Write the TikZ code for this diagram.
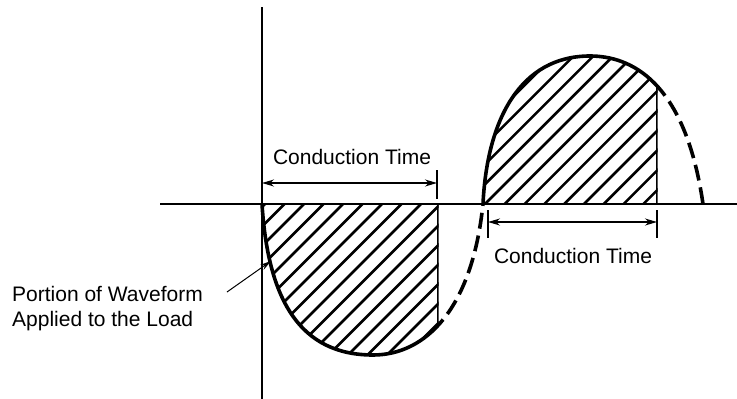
\documentclass[tikz,border=0pt]{standalone}
\usepackage{fontspec}
\setmainfont{Liberation Sans}
\usetikzlibrary{arrows.meta}

% waveform halves (pixel units, y pointing down)
\newcommand{\negwave}{(262,204) .. controls (268,300) and (300,355) .. (373,355)
  .. controls (425,355) and (472,310) .. (483,204)}
\newcommand{\poswave}{(483,204) .. controls (487,120) and (520,56) .. (590,56)
  .. controls (630,56) and (685,80) .. (703,204)}

\begin{document}
\begin{tikzpicture}[
  x=1pt, y=-1pt,
  axis/.style={line width=1.3pt},
  wave/.style={line width=3.6pt},
  hatch/.style={line width=2.6pt},
  dim/.style={{Stealth[length=12pt,width=7pt]}-{Stealth[length=12pt,width=7pt]}, line width=1.2pt},
  lbl/.style={font=\fontsize{21}{25}\selectfont, inner sep=0pt},
]
  \useasboundingbox (0,0) rectangle (737,399);

  % Axes
  \coordinate (ytop) at (262,7);
  \coordinate (ybot) at (262,399);
  \coordinate (xleft) at (160,204);
  \coordinate (xright) at (737,204);
  \draw[axis] (ytop) -- (ybot);
  \draw[axis] (xleft) -- (xright);

  % Negative half: hatched part
  \begin{scope}
    \clip (262,204) rectangle (438.5,400);
    \clip \negwave -- cycle;
    \foreach \k in {0,...,18}
      \draw[hatch] ({69+19.5*\k},400) -- ++(260,-260);
    \draw[axis] (438,204) -- (438,400);
  \end{scope}
  \begin{scope}
    \clip (250,150) rectangle (438,400);
    \draw[wave] \negwave;
  \end{scope}
  \begin{scope}
    \clip (438,150) rectangle (500,400);
    \draw[wave, dash pattern=on 16pt off 7pt] \negwave;
  \end{scope}

  % Positive half: hatched part
  \begin{scope}
    \clip (483,30) rectangle (657.5,204);
    \clip \poswave -- cycle;
    \foreach \k in {-8,...,9}
      \draw[hatch] ({289+19.8*\k},400) -- ++(400,-400);
    \draw[axis] (657,204) -- (657,30);
  \end{scope}
  \begin{scope}
    \clip (470,30) rectangle (657,206);
    \draw[wave] \poswave;
  \end{scope}
  \begin{scope}
    \clip (657,30) rectangle (720,206);
    \draw[wave, dash pattern=on 16pt off 7pt] \poswave;
  \end{scope}

  % Upper conduction time
  \coordinate (t1a) at (437,170);
  \coordinate (t1b) at (437,199);
  \coordinate (c1l) at (262,183);
  \coordinate (c1r) at (437,183);
  \draw[axis] (t1a) -- (t1b);
  \draw[dim] (c1l) -- (c1r);
  \node[lbl] (cond1) at (352,157) {Conduction Time};

  % Lower conduction time
  \coordinate (t2a) at (488,210);
  \coordinate (t2b) at (488,238);
  \coordinate (t3a) at (657,210);
  \coordinate (t3b) at (657,238);
  \coordinate (c2l) at (488,222);
  \coordinate (c2r) at (657,222);
  \draw[axis] (t2a) -- (t2b);
  \draw[axis] (t3a) -- (t3b);
  \draw[dim] (c2l) -- (c2r);
  \node[lbl] (cond2) at (573,256) {Conduction Time};

  % Annotation
  \node[lbl, align=left, anchor=north west] (portion) at (12,286)
    {Portion of Waveform\\Applied to the Load};
  \coordinate (lead) at (227,292);
  \coordinate (tip) at (271,261);
  \draw[-{Stealth[length=11pt,width=6pt]}, line width=1pt] (lead) -- (tip);
\end{tikzpicture}
\end{document}
